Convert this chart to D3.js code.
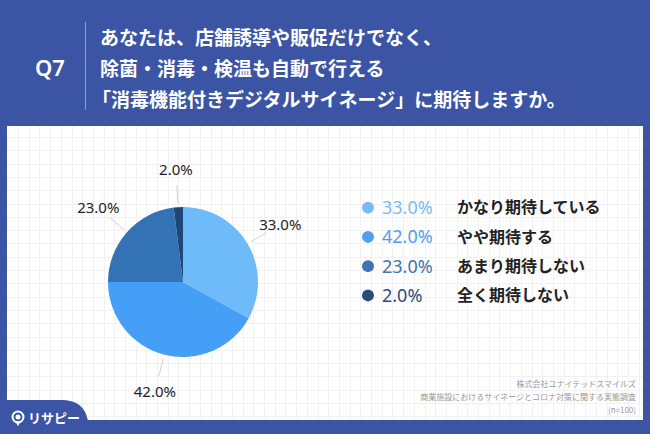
<!DOCTYPE html>
<html><head><meta charset="utf-8">
<script src="https://cdn.jsdelivr.net/npm/d3@7"></script>
<style>html,body{margin:0;padding:0;background:#3b55a4;}svg{display:block;}</style>
</head><body>
<svg id="c" width="650" height="434"></svg>
<script>
const categories = ["かなり期待している", "やや期待する", "あまり期待しない", "全く期待しない"];
const values = [33.0, 42.0, 23.0, 2.0];
const valueLabels = ["33.0%", "42.0%", "23.0%", "2.0%"];
const sliceColors = ["#6fbaf8", "#469ff6", "#3373b5", "#1f4777"];
const legendColors = ["#7cbaf5", "#4f9ef2", "#4073b1", "#2b4b7b"];
const titleLines = ["あなたは、店舗誘導や販促だけでなく、", "除菌・消毒・検温も自動で行える", "「消毒機能付きデジタルサイネージ」に期待しますか。"];
const sourceLines = ["株式会社ユナイテッドスマイルズ", "商業施設におけるサイネージとコロナ対策に関する実態調査", "(n=100)"];

const svg = d3.select("#c");
const font = "'Noto Sans CJK JP', 'Noto Sans', sans-serif";
const blue = "#3b55a4";

svg.append("rect").attr("width", 650).attr("height", 434).attr("fill", blue);

// header
svg.append("text").attr("x", 50).attr("y", 76).attr("text-anchor", "middle")
  .attr("font-family", "'Noto Sans', sans-serif").attr("font-weight", 600).attr("font-size", 22)
  .attr("fill", "#fff").text("Q7");
svg.append("line").attr("x1", 85.5).attr("x2", 85.5).attr("y1", 22).attr("y2", 110)
  .attr("stroke", "#8e9fd0").attr("stroke-width", 1);
svg.selectAll("text.title").data(titleLines).join("text").attr("class", "title")
  .attr("x", 100).attr("y", (d, i) => 45 + i * 31)
  .attr("dx", (d) => d.startsWith("「") ? -8 : 0)
  .attr("font-family", font).attr("font-weight", 700).attr("font-size", 19)
  .attr("fill", "#fff").text(d => d);

// card
const card = {x: 7, y: 126, w: 636, h: 294};
svg.append("rect").attr("x", card.x).attr("y", card.y).attr("width", card.w).attr("height", card.h).attr("fill", "#fff");
const grid = svg.append("g").attr("stroke", "#f1f1f4").attr("stroke-width", 1);
for (let x = card.x + 11; x < card.x + card.w; x += 10.7) grid.append("line").attr("x1", Math.round(x) + 0.5).attr("x2", Math.round(x) + 0.5).attr("y1", card.y).attr("y2", card.y + card.h);
for (let y = card.y + 11; y < card.y + card.h; y += 13.3) grid.append("line").attr("y1", Math.round(y) + 0.5).attr("y2", Math.round(y) + 0.5).attr("x1", card.x).attr("x2", card.x + card.w);

// pie
const cx = 183, cy = 282, R = 75;
const data = categories.map((c, i) => ({cat: c, value: values[i], label: valueLabels[i], color: sliceColors[i]}));
const pie = d3.pie().value(d => d.value).sort(null);
const arcs = pie(data);
const arc = d3.arc().innerRadius(0).outerRadius(R);
const g = svg.append("g").attr("transform", `translate(${cx},${cy})`);
g.selectAll("path").data(arcs).join("path").attr("d", arc).attr("fill", d => d.data.color);

const pt = (a, r) => [Math.sin(a) * r, -Math.cos(a) * r];
arcs.forEach(a => {
  const m = (a.startAngle + a.endAngle) / 2;
  const p1 = pt(m, 79), p2 = pt(m, 97), p3 = pt(m, 113);
  g.append("line").attr("x1", p1[0]).attr("y1", p1[1]).attr("x2", p2[0]).attr("y2", p2[1])
    .attr("stroke", "#cfcfcf").attr("stroke-width", 1);
  g.append("text").attr("x", p3[0]).attr("y", p3[1]).attr("dy", "0.36em").attr("text-anchor", "middle")
    .attr("font-family", "'Noto Sans', sans-serif").attr("font-size", 15).attr("fill", "#222")
    .text(a.data.label);
});

// legend
const ly = d3.scaleBand().domain(categories).range([193, 310]);
const leg = svg.append("g");
data.forEach((d, i) => {
  const y = ly(d.cat) + ly.bandwidth() / 2;
  leg.append("circle").attr("cx", 368).attr("cy", y).attr("r", 6).attr("fill", legendColors[i]);
  leg.append("text").attr("x", 382).attr("y", y).attr("dy", "0.36em")
    .attr("font-family", "'Noto Sans', sans-serif").attr("font-size", 18).attr("fill", legendColors[i]).text(d.label);
  leg.append("text").attr("x", 457).attr("y", y).attr("dy", "0.36em")
    .attr("font-family", font).attr("font-weight", 700).attr("font-size", 16).attr("fill", "#222").text(d.cat);
});

// source
svg.selectAll("text.src").data(sourceLines).join("text").attr("class", "src")
  .attr("x", 636).attr("y", (d, i) => 387 + i * 13).attr("text-anchor", "end")
  .attr("font-family", font).attr("font-size", 8).attr("fill", "#999").text(d => d);

// logo tab
svg.append("path").attr("d", "M0,400 L62,400 Q80,400 86,414 L92,434 L0,434 Z").attr("fill", blue);
const logo = svg.append("g").attr("transform", "translate(18,417)");
logo.append("circle").attr("r", 5.5).attr("fill", "none").attr("stroke", "#fff").attr("stroke-width", 2);
logo.append("path").attr("d", "M-3,4 L0,9 L3,4 Z").attr("fill", "#fff");
logo.append("circle").attr("r", 2.5).attr("fill", "#fff");
svg.append("text").attr("x", 28).attr("y", 423).attr("font-family", font).attr("font-weight", 700)
  .attr("font-size", 13).attr("fill", "#fff").text("リサピー");
</script>
</body></html>
